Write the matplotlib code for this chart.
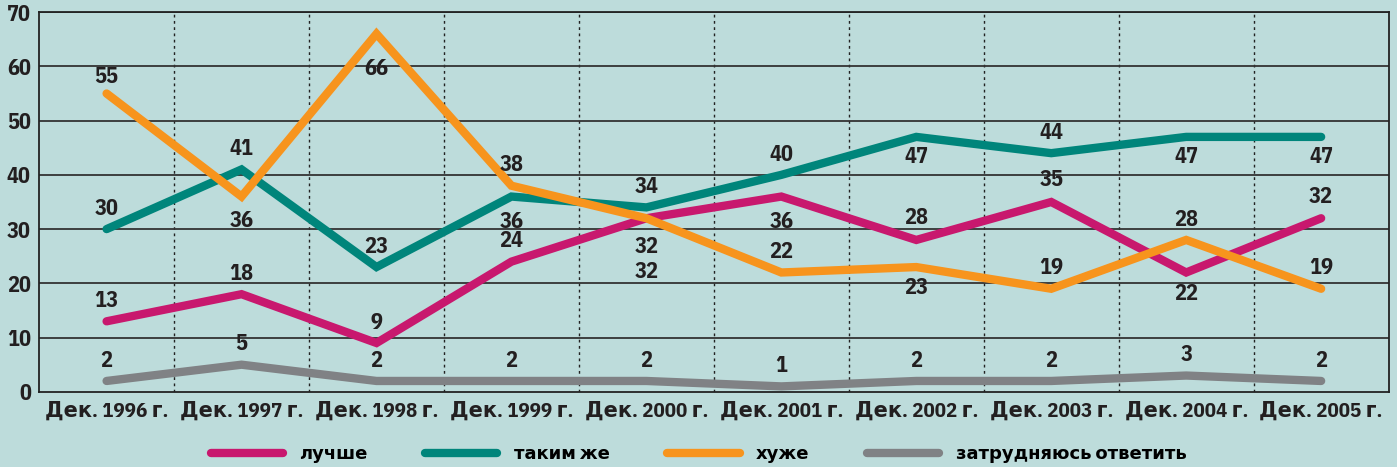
import matplotlib.pyplot as plt
from matplotlib.lines import Line2D

plt.rcParams['font.family'] = ['IBM Plex Sans Condensed', 'DejaVu Sans']
plt.rcParams['font.weight'] = 'bold'

years = ['Дек. 1996 г.', 'Дек. 1997 г.', 'Дек. 1998 г.', 'Дек. 1999 г.', 'Дек. 2000 г.',
         'Дек. 2001 г.', 'Дек. 2002 г.', 'Дек. 2003 г.', 'Дек. 2004 г.', 'Дек. 2005 г.']
better = [13, 18, 9, 24, 32, 36, 28, 35, 22, 32]
same = [30, 41, 23, 36, 34, 40, 47, 44, 47, 47]
worse = [55, 36, 66, 38, 32, 22, 23, 19, 28, 19]
unsure = [2, 5, 2, 2, 2, 1, 2, 2, 3, 2]
names = ['лучше', 'таким же', 'хуже', 'затрудняюсь ответить']

colors = ['#c8186e', '#00857b', '#f7941d', '#808285']
# label offsets in points (positive = above the point)
offs = [
    [15, 15, 15, 15, -20, -18, 16, 16, -15, 16],
    [15, 15, 15, -18, 15, 15, -14, 15, -14, -14],
    [12, -17, -25, 15, -38, 15, -15, 15, 15, 15],
    [15, 15, 15, 15, 15, 15, 15, 15, 15, 15],
]

bg = '#bddcdb'
fig = plt.figure(figsize=(13.97, 4.67), dpi=100, facecolor=bg)
ax = fig.add_axes([0.028, 0.161, 0.966, 0.813], facecolor=bg)

x = list(range(len(years)))
for i in range(1, len(years)):
    ax.axvline(i - 0.5, color='#222222', ls=(0, (2, 2.5)), lw=1, zorder=1)
for v in range(10, 71, 10):
    ax.axhline(v, color='#333333', lw=1.3, zorder=1)

for vals, c, of in zip([better, same, worse, unsure], colors, offs):
    ax.plot(x, vals, color=c, lw=6, solid_capstyle='round', solid_joinstyle='miter', zorder=3)
    for xi, v, o in zip(x, vals, of):
        ax.annotate(str(v), (xi, v), xytext=(0, o), textcoords='offset points',
                    ha='center', va='center', fontsize=16, color='#231f20', zorder=4)

ax.set_xlim(-0.5, len(years) - 0.5)
ax.set_ylim(0, 70)
ax.set_yticks(range(0, 71, 10))
ax.set_xticks(x)
ax.set_xticklabels(years)
ax.tick_params(length=0, labelsize=15, colors='#231f20', pad=7)
ax.tick_params(axis='y', pad=6, labelsize=16)
for s in ax.spines.values():
    s.set_color('#222222')
    s.set_linewidth(1.3)

handles = [Line2D([], [], color=c, lw=6, solid_capstyle='round') for c in colors]
fig.legend(handles, names, loc='center', bbox_to_anchor=(0.5, 0.027), ncol=4, frameon=False,
           fontsize=13, handlelength=4.0, handletextpad=0.9, columnspacing=3.2)

fig.savefig('out.png', dpi=100, facecolor=bg)
